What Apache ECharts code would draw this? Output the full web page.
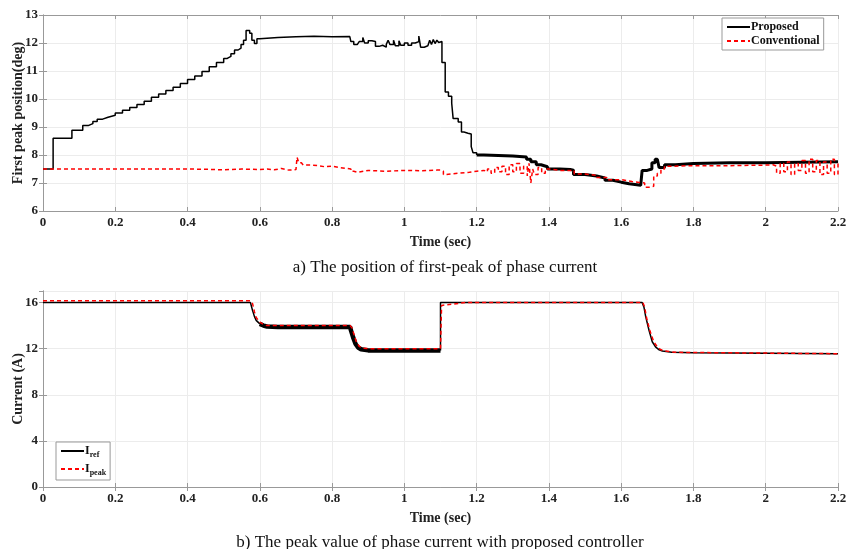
<!DOCTYPE html>
<html>
<head>
<meta charset="utf-8">
<script src="https://cdn.jsdelivr.net/npm/echarts@6/dist/echarts.min.js"></script>
<style>
  html, body { margin: 0; padding: 0; background: #fff; }
  #chart { width: 847px; height: 549px; }
</style>
</head>
<body>
<div id="chart"></div>
<script>
// ---- a) first-peak position (deg) ----
const propT1 = [0, 0.028, 0.08, 0.11, 0.125, 0.138, 0.15, 0.165, 0.18, 0.2, 0.22, 0.24, 0.26, 0.28, 0.3, 0.32, 0.34, 0.36, 0.38, 0.4, 0.42, 0.44, 0.46, 0.48, 0.5, 0.51, 0.52, 0.53, 0.54, 0.548, 0.555, 0.562, 0.572, 0.578, 0.585, 0.592, 0.6, 0.65, 0.7, 0.75, 0.8, 0.849, 0.852, 0.86, 0.87, 0.875, 0.885, 0.89, 0.9, 0.91, 0.92, 0.93, 0.94, 0.95, 0.955, 0.96, 0.97, 0.975, 0.985, 0.99, 1.0, 1.01, 1.02, 1.03, 1.04, 1.045, 1.055, 1.065, 1.07, 1.075, 1.08, 1.085, 1.09, 1.095, 1.1, 1.104, 1.113, 1.122, 1.131, 1.135, 1.149, 1.158, 1.165, 1.176, 1.185, 1.19, 1.2]
const propV1 = [7.5, 8.6, 8.88, 9.05, 9.12, 9.2, 9.28, 9.35, 9.42, 9.5, 9.6, 9.7, 9.8, 9.92, 10.06, 10.18, 10.3, 10.42, 10.55, 10.7, 10.82, 10.98, 11.15, 11.3, 11.45, 11.52, 11.62, 11.75, 11.82, 11.95, 12.1, 12.45, 12.35, 12.1, 11.98, 12.15, 12.2, 12.22, 12.24, 12.22, 12.23, 12.22, 12.05, 11.95, 11.9, 12.05, 12.2, 12.0, 12.08, 12.05, 11.88, 11.92, 11.85, 11.95, 12.1, 11.95, 12.1, 11.9, 12.08, 11.92, 12.0, 11.92, 12.0, 12.05, 12.25, 11.85, 11.9, 11.95, 12.1, 11.95, 12.12, 11.98, 12.1, 12.02, 12.05, 11.3, 10.25, 10.1, 9.85, 9.3, 9.18, 8.82, 8.78, 8.75, 8.3, 8.08, 8.0]
const propT2 = [1.2, 1.22, 1.26, 1.3, 1.338, 1.35, 1.365, 1.378, 1.396, 1.43, 1.459, 1.468, 1.5, 1.532, 1.555, 1.577, 1.6, 1.622, 1.654, 1.658, 1.672, 1.685, 1.694, 1.7, 1.705, 1.72, 1.75, 1.8, 1.9, 2.0, 2.1, 2.2]
const propV2 = [8.0, 7.98, 7.96, 7.93, 7.85, 7.76, 7.65, 7.58, 7.5, 7.48, 7.46, 7.3, 7.25, 7.18, 7.1, 7.03, 6.97, 6.92, 6.92, 7.45, 7.5, 7.72, 7.85, 7.88, 7.55, 7.65, 7.7, 7.72, 7.72, 7.74, 7.76, 7.76]
const convT = [0, 0.3, 0.4, 0.45, 0.5, 0.55, 0.6, 0.62, 0.64, 0.66, 0.68, 0.7, 0.703, 0.708, 0.715, 0.72, 0.74, 0.76, 0.78, 0.8, 0.82, 0.84, 0.852, 0.86, 0.87, 0.9, 0.95, 1.0, 1.05, 1.09, 1.1, 1.108, 1.115, 1.12, 1.15, 1.18, 1.2, 1.22, 1.23, 1.24, 1.25, 1.26, 1.27, 1.28, 1.29, 1.3, 1.31, 1.32, 1.33, 1.34, 1.345, 1.35, 1.355, 1.36, 1.37, 1.38, 1.39, 1.4, 1.43, 1.46, 1.47, 1.5, 1.53, 1.56, 1.6, 1.63, 1.65, 1.665, 1.68, 1.69, 1.7, 1.71, 1.72, 1.74, 1.8, 1.9, 2.0, 2.02, 2.03, 2.04, 2.05, 2.06, 2.07, 2.08, 2.09, 2.1, 2.11, 2.12, 2.13, 2.14, 2.15, 2.16, 2.17, 2.18, 2.19, 2.2]
const convV = [7.5, 7.5, 7.49, 7.47, 7.5, 7.48, 7.5, 7.47, 7.52, 7.46, 7.48, 7.48, 7.92, 7.72, 7.78, 7.64, 7.62, 7.58, 7.6, 7.55, 7.52, 7.5, 7.42, 7.38, 7.45, 7.42, 7.45, 7.44, 7.46, 7.46, 7.42, 7.3, 7.27, 7.35, 7.38, 7.42, 7.45, 7.4, 7.5, 7.35, 7.55, 7.4, 7.6, 7.3, 7.65, 7.4, 7.7, 7.35, 7.6, 7.25, 7.7, 7.0, 7.5, 7.3, 7.55, 7.35, 7.5, 7.45, 7.45, 7.45, 7.32, 7.28, 7.2, 7.12, 7.05, 7.02, 7.0, 6.85, 6.88, 7.25, 7.35, 7.5, 7.6, 7.62, 7.62, 7.64, 7.65, 7.6, 7.35, 7.7, 7.4, 7.75, 7.3, 7.7, 7.45, 7.8, 7.35, 7.85, 7.4, 7.8, 7.3, 7.75, 7.35, 7.85, 7.3, 7.7]

// ---- b) peak current (A) ----
const refT1 = [0, 0.574, 0.58, 0.585, 0.59, 0.6]
const refV1 = [16, 16, 15.3, 14.8, 14.45, 14.15]
const refT2 = [0.6, 0.61, 0.62, 0.65, 0.85, 0.852, 0.858, 0.865, 0.872, 0.88, 0.9, 1.1]
const refV2 = [14.15, 14.0, 13.92, 13.88, 13.88, 13.6, 13.0, 12.4, 12.1, 11.95, 11.85, 11.85]
const refT3 = [1.1, 1.1, 1.658, 1.663, 1.668, 1.677, 1.686, 1.695, 1.705, 1.714, 1.74, 1.8, 2.0, 2.2]
const refV3 = [11.85, 16, 16, 15.6, 14.75, 13.6, 12.6, 12.15, 11.9, 11.8, 11.68, 11.65, 11.6, 11.56]
const peakT = [0, 0.574, 0.58, 0.585, 0.59, 0.6, 0.61, 0.62, 0.85, 0.855, 0.86, 0.867, 0.875, 0.885, 0.9, 1.1, 1.103, 1.13, 1.17, 1.66, 1.665, 1.67, 1.68, 1.69, 1.7, 1.71, 1.72, 1.75, 2.2]
const peakV = [16.15, 16.15, 15.9, 15.2, 14.7, 14.3, 14.1, 14.0, 14.0, 13.8, 13.3, 12.6, 12.2, 12.05, 12.0, 12.0, 15.75, 15.85, 16.0, 16.0, 15.6, 14.7, 13.5, 12.6, 12.15, 11.9, 11.8, 11.68, 11.56]

const pairs = (t, v) => t.map((x, i) => [x, v[i]])
const FONT = 'Liberation Serif'

const chart = echarts.init(document.getElementById('chart'))

const lbl = { fontFamily: FONT, fontWeight: 'bold', fontSize: 13, color: '#222' }
const axLine = { lineStyle: { color: '#999', width: 1 } }
const tick = { inside: true, length: 4, lineStyle: { color: '#999' } }
const grid = { show: true, lineStyle: { color: '#ececec' } }

function xAxisFor(gi) {
    return [
        {
            type: 'value', gridIndex: gi, min: 0, max: 2.2, interval: 0.2,
            name: 'Time (sec)', nameLocation: 'middle', nameGap: 24, nameMoveOverlap: false,
            nameTextStyle: { fontFamily: FONT, fontWeight: 'bold', fontSize: 14, color: '#222' },
            axisLine: axLine, axisTick: tick, splitLine: grid,
            axisLabel: Object.assign({ margin: 5 }, lbl)
        },
        {
            type: 'value', gridIndex: gi, position: 'top', min: 0, max: 2.2, interval: 0.2,
            axisLine: axLine, axisTick: tick, splitLine: { show: false }, axisLabel: { show: false }
        }
    ]
}
function yAxisFor(gi, min, max, step, name) {
    return [
        {
            type: 'value', gridIndex: gi, min: min, max: max, interval: step,
            name: name, nameLocation: 'middle', nameGap: 18, nameMoveOverlap: false,
            nameTextStyle: { fontFamily: FONT, fontWeight: 'bold', fontSize: 14, color: '#222' },
            axisLine: axLine, axisTick: tick, splitLine: grid,
            axisLabel: Object.assign({ margin: 5, showMaxLabel: max % step === 0 }, lbl)
        },
        {
            type: 'value', gridIndex: gi, position: 'right', min: min, max: max, interval: step,
            axisLine: axLine, axisTick: tick, splitLine: { show: false }, axisLabel: { show: false }
        }
    ]
}

const legendBase = {
    orient: 'vertical', itemWidth: 23, itemHeight: 10, itemGap: 2,
    padding: [3, 4, 3, 4], borderColor: '#999', borderWidth: 1, backgroundColor: '#fff',
    itemStyle: { opacity: 0 },
    textStyle: { fontFamily: FONT, fontWeight: 'bold', fontSize: 12, color: '#111', padding: [0, 0, 0, -4] }
}

const option = {
    animation: false,
    grid: [
        { left: 43, right: 9, top: 15, height: 196, outerBoundsMode: 'none' },
        { left: 43, right: 9, top: 291, height: 196, outerBoundsMode: 'none' }
    ],
    title: [
        { text: 'a) The position of first-peak of phase current', left: 440, top: 254, textAlign: 'center',
          textStyle: { fontFamily: FONT, fontWeight: 'normal', fontSize: 17, color: '#111' } },
        { text: 'b) The peak value of phase current with proposed controller', left: 435, top: 529, textAlign: 'center',
          textStyle: { fontFamily: FONT, fontWeight: 'normal', fontSize: 17, color: '#111' } }
    ],
    legend: [
        Object.assign({}, legendBase, { left: 722, top: 18, data: ['Proposed', 'Conventional'] }),
        Object.assign({}, legendBase, {
            left: 56, top: 442, itemGap: 4, data: ['Iref', 'Ipeak'],
            formatter: n => '{m|I}{s|' + n.slice(1) + '}',
            textStyle: Object.assign({}, legendBase.textStyle, {
                rich: {
                    m: { fontFamily: FONT, fontWeight: 'bold', fontSize: 12, color: '#111' },
                    s: { fontFamily: FONT, fontWeight: 'bold', fontSize: 8, color: '#111', padding: [8, 0, 0, 0] }
                }
            })
        })
    ],
    xAxis: xAxisFor(0).concat(xAxisFor(1)),
    yAxis: yAxisFor(0, 6, 13, 1, 'First peak position(deg)').concat(yAxisFor(1, 0, 17, 4, 'Current (A)')),
    series: [
        { name: 'Proposed', type: 'line', xAxisIndex: 0, yAxisIndex: 0, step: 'end', symbol: 'none',
          lineStyle: { color: '#000', width: 1.5 }, itemStyle: { color: '#000' }, data: pairs(propT1, propV1) },
        { name: 'Proposed', type: 'line', xAxisIndex: 0, yAxisIndex: 0, step: 'end', symbol: 'none', z: 3,
          lineStyle: { color: '#000', width: 3 }, itemStyle: { color: '#000' }, data: pairs(propT2, propV2) },
        { name: 'Conventional', type: 'line', xAxisIndex: 0, yAxisIndex: 0, step: 'end', symbol: 'none',
          lineStyle: { color: '#ff0000', width: 1.5, type: [4, 3] }, itemStyle: { color: '#ff0000' }, data: pairs(convT, convV) },

        { name: 'Iref', type: 'line', xAxisIndex: 2, yAxisIndex: 2, symbol: 'none',
          lineStyle: { color: '#000', width: 1.5 }, itemStyle: { color: '#000' }, data: pairs(refT1, refV1) },
        { name: 'Iref', type: 'line', xAxisIndex: 2, yAxisIndex: 2, symbol: 'none',
          lineStyle: { color: '#000', width: 4.5 }, itemStyle: { color: '#000' }, data: pairs(refT2, refV2) },
        { name: 'Iref', type: 'line', xAxisIndex: 2, yAxisIndex: 2, symbol: 'none',
          lineStyle: { color: '#000', width: 1.5 }, itemStyle: { color: '#000' }, data: pairs(refT3, refV3) },
        { name: 'Ipeak', type: 'line', xAxisIndex: 2, yAxisIndex: 2, symbol: 'none', z: 4,
          lineStyle: { color: '#ff0000', width: 1.5, type: [4, 3] }, itemStyle: { color: '#ff0000' }, data: pairs(peakT, peakV) }
    ]
}
chart.setOption(option)
</script>
</body>
</html>
